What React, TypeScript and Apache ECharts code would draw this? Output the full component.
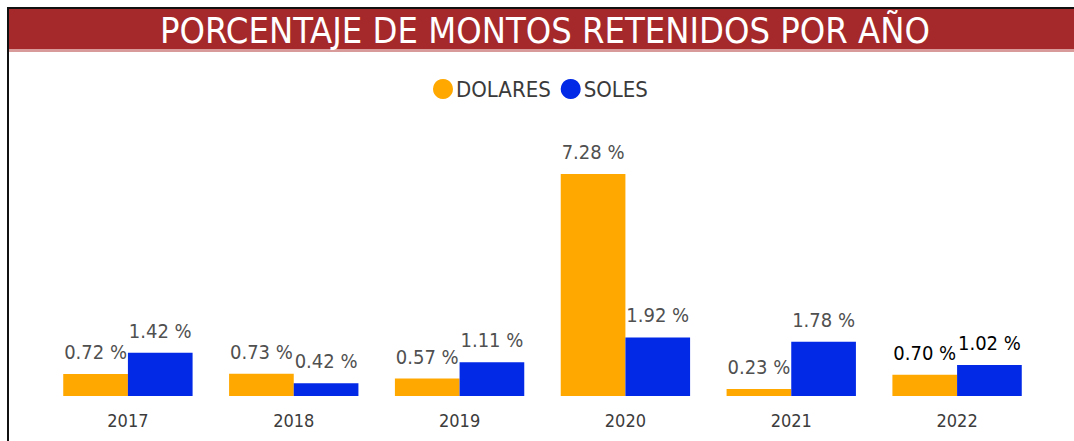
import React, { useEffect, useRef } from "react";
import * as echarts from "echarts";

const years = ["2017", "2018", "2019", "2020", "2021", "2022"];
const dolares = [0.72, 0.73, 0.57, 7.28, 0.23, 0.7];
const soles = [1.42, 0.42, 1.11, 1.92, 1.78, 1.02];
const seriesNames = ["DOLARES", "SOLES"];
const titleText = "PORCENTAJE DE MONTOS RETENIDOS POR AÑO";

const FONT = "'DejaVu Sans Condensed', 'Liberation Sans Narrow', Roboto, sans-serif";

export default function App() {
  const ref = useRef<HTMLDivElement>(null);
  useEffect(() => {
    if (!ref.current) return;
    const chart = echarts.init(ref.current, undefined, { renderer: "svg" });
    const mk = (vals: number[]) =>
      vals.map((v, i) => ({
        value: v,
        label: i === vals.length - 1 ? { color: "#000" } : undefined,
      }));
    const labelCfg = {
      show: true,
      position: "top",
      distance: 12,
      fontSize: 20,
      color: "#505050",
      fontFamily: FONT,
      formatter: (p: any) => `${p.value.toFixed(2)} %`,
    };
    chart.setOption({
      animation: false,
      backgroundColor: "#fff",
      textStyle: { fontFamily: FONT },
      graphic: [
        { type: "rect", shape: { x: 7, y: 7, width: 1067, height: 2 }, style: { fill: "#111" } },
        { type: "rect", shape: { x: 7, y: 7, width: 2, height: 434 }, style: { fill: "#111" } },
        { type: "rect", shape: { x: 9, y: 9, width: 1065, height: 40 }, style: { fill: "#A5292A" } },
        { type: "rect", shape: { x: 9, y: 49, width: 1065, height: 3 }, style: { fill: "#D99A9A" } },
        {
          type: "text",
          x: 545,
          y: 30,
          style: {
            text: titleText,
            fill: "#fff",
            font: `36px ${FONT}`,
            textAlign: "center",
            textVerticalAlign: "middle",
          },
        },
      ],
      legend: {
        data: seriesNames,
        top: 73,
        left: 428,
        icon: "circle",
        itemWidth: 20,
        itemHeight: 20,
        itemGap: 10,
        textStyle: { fontSize: 22, color: "#3a3a3a", fontFamily: FONT, padding: [0, 0, 0, -2] },
      },
      grid: { left: 45, right: 34, top: 152, bottom: 45, containLabel: false },
      xAxis: {
        type: "category",
        data: years,
        axisLine: { show: false },
        axisTick: { show: false },
        axisLabel: { fontSize: 18, color: "#3c3c3c", margin: 15, fontFamily: FONT },
      },
      yAxis: { type: "value", min: 0, max: 8, show: false, splitLine: { show: false } },
      series: [
        {
          name: seriesNames[0],
          type: "bar",
          data: mk(dolares),
          itemStyle: { color: "#FFA800" },
          barGap: "0%",
          barCategoryGap: "22%",
          label: labelCfg,
        },
        {
          name: seriesNames[1],
          type: "bar",
          data: mk(soles),
          itemStyle: { color: "#0229E6" },
          barGap: "0%",
          barCategoryGap: "22%",
          label: labelCfg,
        },
      ],
    });
    return () => chart.dispose();
  }, []);
  return (
    <div
      ref={ref}
      style={{ position: "fixed", left: 0, top: 0, width: 1074, height: 441 }}
    />
  );
}
